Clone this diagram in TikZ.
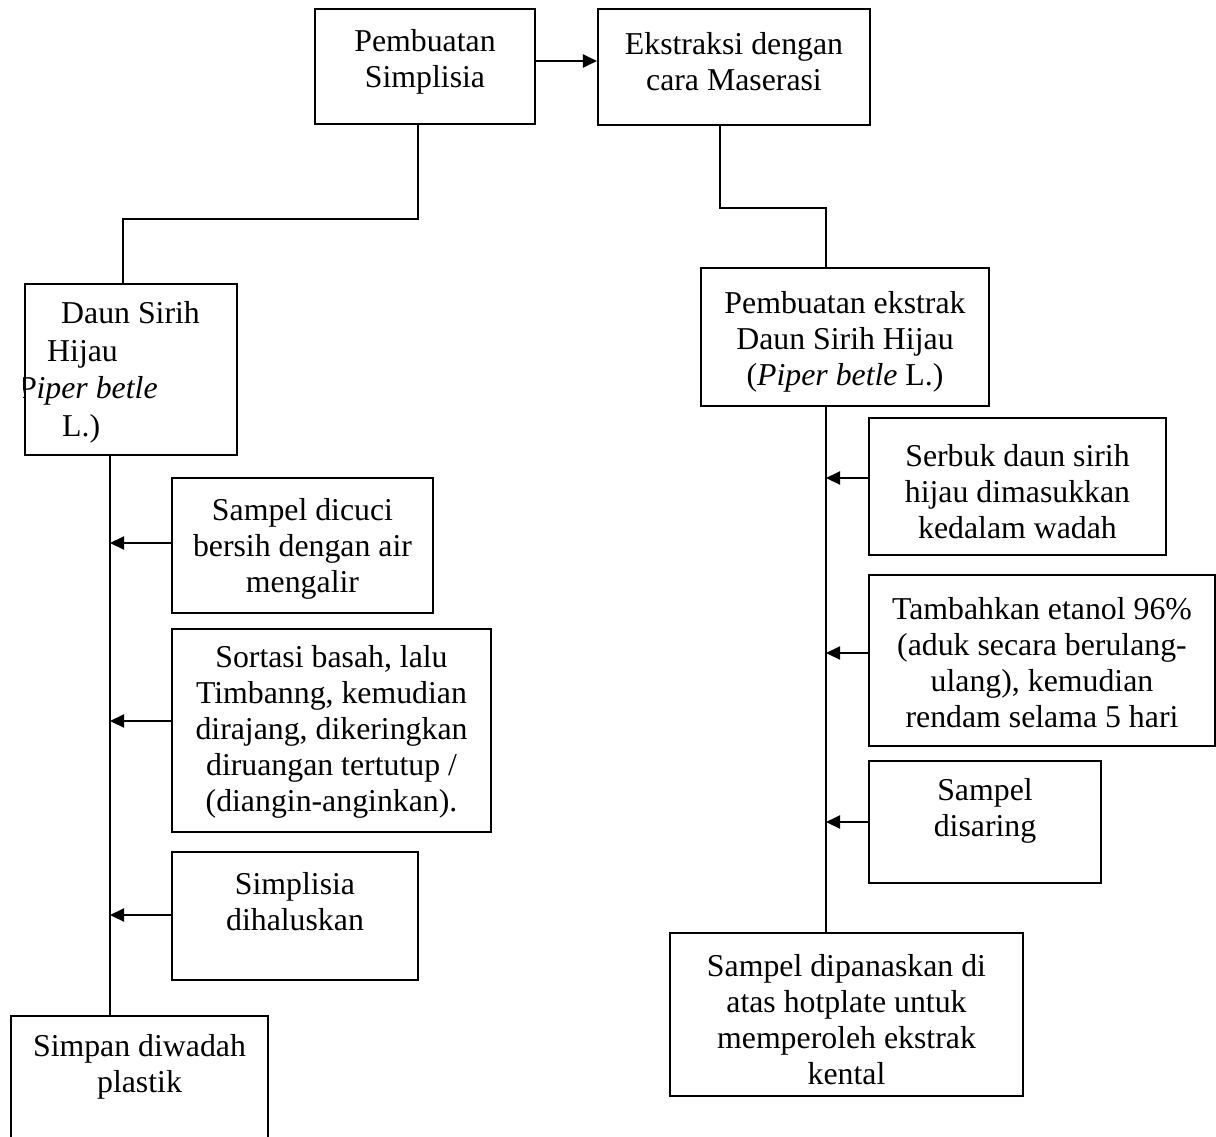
\documentclass[tikz,border=0pt]{standalone}
\usepackage{fontspec}
\setmainfont{Liberation Serif}
\usetikzlibrary{arrows.meta}
\begin{document}
\begin{tikzpicture}[x=1pt,y=-1pt,
  box/.style={draw, line width=2.1pt, inner sep=0pt, rectangle},
  txt/.style={font=\fontsize{31.8}{36}\selectfont, align=center, inner sep=0pt},
  ltxt/.style={font=\fontsize{31.8}{36}\selectfont, inner sep=0pt, anchor=base west},
  ln/.style={line width=2.1pt},
  arr/.style={line width=2.1pt, -{Triangle[length=14pt,width=13pt]}}]
\useasboundingbox (0,0) rectangle (1216,1136);
\clip (0,0) rectangle (1216,1136);

% top boxes
\node[box, minimum width=220pt, minimum height=115pt] (simp) at (425,66.5) {};
\node[txt] (simpT) at (425,61.5) {Pembuatan\\Simplisia};
\node[box, minimum width=272pt, minimum height=116pt] (eks) at (734,67) {};
\node[txt] (eksT) at (734,61.5) {Ekstraksi dengan\\cara Maserasi};

% left column
\node[box, minimum width=212pt, minimum height=171pt] (daun) at (131,369.5) {};
\begin{scope}
\clip (daun.north west) rectangle (daun.south east);
\node[ltxt] (d1) at (61,323) {Daun Sirih};
\node[ltxt] (d2) at (47,361) {Hijau};
\node[ltxt] (d3) at (17,398) {\textit{Piper betle}};
\node[ltxt] (d4) at (62,436) {L.)};
\end{scope}

\node[box, minimum width=261pt, minimum height=135pt] (cuci) at (302.5,545.5) {};
\node[txt] (cuciT) at (302.5,549) {Sampel dicuci\\bersih dengan air\\mengalir};
\node[box, minimum width=319pt, minimum height=203pt] (sortasi) at (331.5,730.5) {};
\node[txt] (sortasiT) at (331.5,732) {Sortasi basah, lalu\\Timbanng, kemudian\\dirajang, dikeringkan\\diruangan tertutup /\\(diangin-anginkan).};
\node[box, minimum width=246pt, minimum height=128pt] (halus) at (295,916) {};
\node[txt] (halusT) at (295,902) {Simplisia\\dihaluskan};
\node[box, minimum width=257pt, minimum height=134pt] (simpan) at (139.5,1083) {};
\node[txt] (simpanT) at (139.5,1067) {Simpan diwadah\\plastik};

% right column
\node[box, minimum width=288pt, minimum height=138pt] (ekstrak) at (845,337) {};
\node[txt] (ekstrakT) at (845,342) {Pembuatan ekstrak\\Daun Sirih Hijau\\(\textit{Piper betle} L.)};
\node[box, minimum width=297pt, minimum height=137pt] (serbuk) at (1017.5,486.5) {};
\node[txt] (serbukT) at (1017.5,492) {Serbuk daun sirih\\hijau dimasukkan\\kedalam wadah};
\node[box, minimum width=346pt, minimum height=171pt] (tambah) at (1042,660.5) {};
\node[txt] (tambahT) at (1042,663) {Tambahkan etanol 96\%\\(aduk secara berulang-\\ulang), kemudian\\rendam selama 5 hari};
\node[box, minimum width=232pt, minimum height=122pt] (saring) at (985,822) {};
\node[txt] (saringT) at (985,810.5) {Sampel\\disaring};
\node[box, minimum width=353pt, minimum height=163pt] (final) at (846.5,1014.5) {};
\node[txt] (finalT) at (846.5,1020) {Sampel dipanaskan di\\atas hotplate untuk\\memperoleh ekstrak\\kental};

% coordinates
\coordinate (yT) at (0,61);
\coordinate (xSimp) at (418,0);
\coordinate (yL) at (0,219);
\coordinate (xL0) at (123,0);
\coordinate (xE) at (720,0);
\coordinate (yR) at (0,208);
\coordinate (xR) at (826,0);
\coordinate (xL) at (110,0);
\coordinate (yA1) at (0,543);
\coordinate (yA2) at (0,721);
\coordinate (yA3) at (0,915);
\coordinate (yB1) at (0,478);
\coordinate (yB2) at (0,653);
\coordinate (yB3) at (0,822);

% connectors
\draw[arr] (simp.east |- yT) -- (eks.west |- yT);
\draw[ln] (simp.south -| xSimp) |- (xL0 |- yL) -- (daun.north -| xL0);
\draw[ln] (eks.south -| xE) |- (xR |- yR) -- (ekstrak.north -| xR);
\draw[ln] (daun.south -| xL) -- (simpan.north -| xL);
\draw[ln] (ekstrak.south -| xR) -- (final.north -| xR);
\draw[arr] (cuci.west |- yA1) -- (xL |- yA1);
\draw[arr] (sortasi.west |- yA2) -- (xL |- yA2);
\draw[arr] (halus.west |- yA3) -- (xL |- yA3);
\draw[arr] (serbuk.west |- yB1) -- (xR |- yB1);
\draw[arr] (tambah.west |- yB2) -- (xR |- yB2);
\draw[arr] (saring.west |- yB3) -- (xR |- yB3);
\end{tikzpicture}
\end{document}
